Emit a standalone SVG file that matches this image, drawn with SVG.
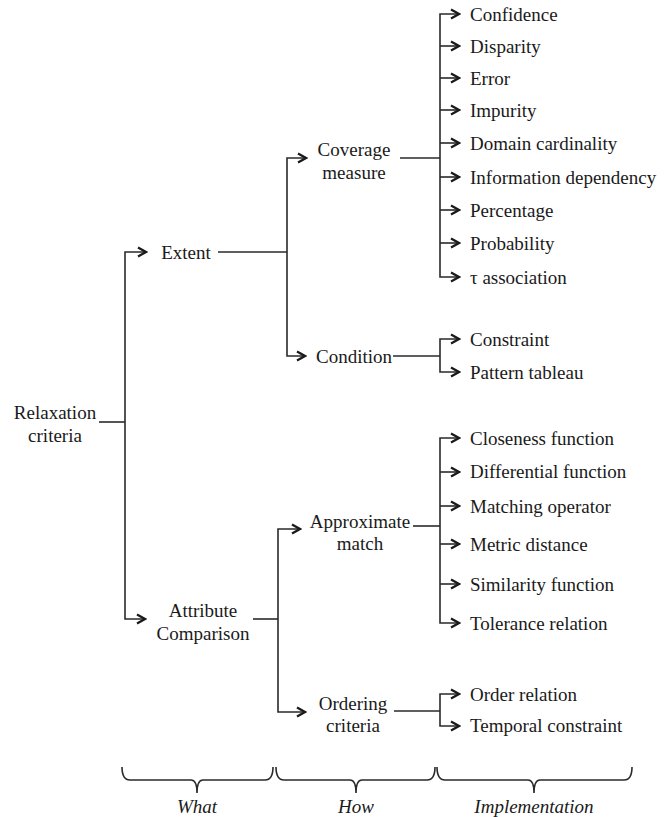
<svg xmlns="http://www.w3.org/2000/svg" width="669" height="817" viewBox="0 0 669 817">
<defs>
<marker id="ah" viewBox="0 0 12 12" refX="10" refY="6" markerWidth="12" markerHeight="12" orient="auto" markerUnits="userSpaceOnUse">
<path d="M2,1.5 L10,6 L2,10.5" fill="none" stroke="#1a1a1a" stroke-width="2.2"/>
</marker>
</defs>
<rect width="669" height="817" fill="#fff"/>
<g id="connectors" fill="none" stroke="#2a2a2a" stroke-width="1.6">
<path d="M99,422 H125"/>
<path d="M218,252 H287"/>
<path d="M400,158 H440"/>
<path d="M393,356 H440"/>
<path d="M253,619 H278"/>
<path d="M413,526 H440"/>
<path d="M394,711 H440"/>
<g marker-end="url(#ah)">
<path d="M125,422 V252 H146"/>
<path d="M125,422 V619 H145"/>
<path d="M287,252 V158 H306"/>
<path d="M287,252 V356 H305"/>
<path d="M440,158 V14 H459"/>
<path d="M440,46 H459"/>
<path d="M440,78 H459"/>
<path d="M440,110 H459"/>
<path d="M440,143 H459"/>
<path d="M440,158 V277 H459"/>
<path d="M440,177 H459"/>
<path d="M440,210 H459"/>
<path d="M440,243 H459"/>
<path d="M440,356 V339 H459"/>
<path d="M440,356 V372 H459"/>
<path d="M278,619 V529 H300"/>
<path d="M278,619 V712 H305"/>
<path d="M440,526 V438 H459"/>
<path d="M440,472 H459"/>
<path d="M440,506 H459"/>
<path d="M440,544 H459"/>
<path d="M440,584 H459"/>
<path d="M440,526 V623 H459"/>
<path d="M440,711 V694 H459"/>
<path d="M440,711 V726 H459"/>
</g>
</g>
<g font-family="Liberation Serif, Times New Roman, serif" font-size="19" fill="#1a1a1a">
<g text-anchor="middle">
<g id="n-root"><text x="55" y="418.5">Relaxation</text><text x="55" y="441.5">criteria</text></g>
<g id="n-extent"><text x="186" y="258.5">Extent</text></g>
<g id="n-attr"><text x="203" y="616.5">Attribute</text><text x="203" y="639.5">Comparison</text></g>
<g id="n-coverage"><text x="354" y="155.5">Coverage</text><text x="354" y="178.5">measure</text></g>
<g id="n-condition"><text x="354" y="362.5">Condition</text></g>
<g id="n-approx"><text x="360" y="528">Approximate</text><text x="360" y="549.5">match</text></g>
<g id="n-ordering"><text x="353" y="709.5">Ordering</text><text x="353" y="731.5">criteria</text></g>
</g>
<g id="n-confidence"><text x="470" y="20.5">Confidence</text></g>
<g id="n-disparity"><text x="470" y="52.5">Disparity</text></g>
<g id="n-error"><text x="470" y="84.5">Error</text></g>
<g id="n-impurity"><text x="470" y="116.5">Impurity</text></g>
<g id="n-domain"><text x="470" y="149.5">Domain cardinality</text></g>
<g id="n-infodep"><text x="470" y="183.5">Information dependency</text></g>
<g id="n-percentage"><text x="470" y="216.5">Percentage</text></g>
<g id="n-probability"><text x="470" y="249.5">Probability</text></g>
<g id="n-tau"><text x="470" y="283.5">τ association</text></g>
<g id="n-constraint"><text x="470" y="345.5">Constraint</text></g>
<g id="n-pattern"><text x="470" y="378.5">Pattern tableau</text></g>
<g id="n-closeness"><text x="470" y="444.5">Closeness function</text></g>
<g id="n-differential"><text x="470" y="478">Differential function</text></g>
<g id="n-matching"><text x="470" y="512.5">Matching operator</text></g>
<g id="n-metric"><text x="470" y="550.5">Metric distance</text></g>
<g id="n-similarity"><text x="470" y="590.5">Similarity function</text></g>
<g id="n-tolerance"><text x="470" y="629.5">Tolerance relation</text></g>
<g id="n-order"><text x="470" y="700.5">Order relation</text></g>
<g id="n-temporal"><text x="470" y="732">Temporal constraint</text></g>
</g>
<g id="braces">
<g fill="none" stroke="#2a2a2a" stroke-width="1.6">
<path d="M122,767 Q122,780 130,780 L191,780 Q197,780 197,793 Q197,780 203,780 L265,780 Q273,780 273,767"/>
<path d="M276,767 Q276,780 284,780 L350,780 Q356,780 356,793 Q356,780 362,780 L427,780 Q435,780 435,767"/>
<path d="M437,767 Q437,780 445,780 L528,780 Q534,780 534,793 Q534,780 540,780 L624,780 Q632,780 632,767"/>
</g>
<g font-family="Liberation Serif, Times New Roman, serif" font-size="19" font-style="italic" text-anchor="middle" fill="#1a1a1a">
<text x="197" y="813">What</text>
<text x="356" y="813">How</text>
<text x="534" y="813">Implementation</text>
</g>
</g>
</svg>
